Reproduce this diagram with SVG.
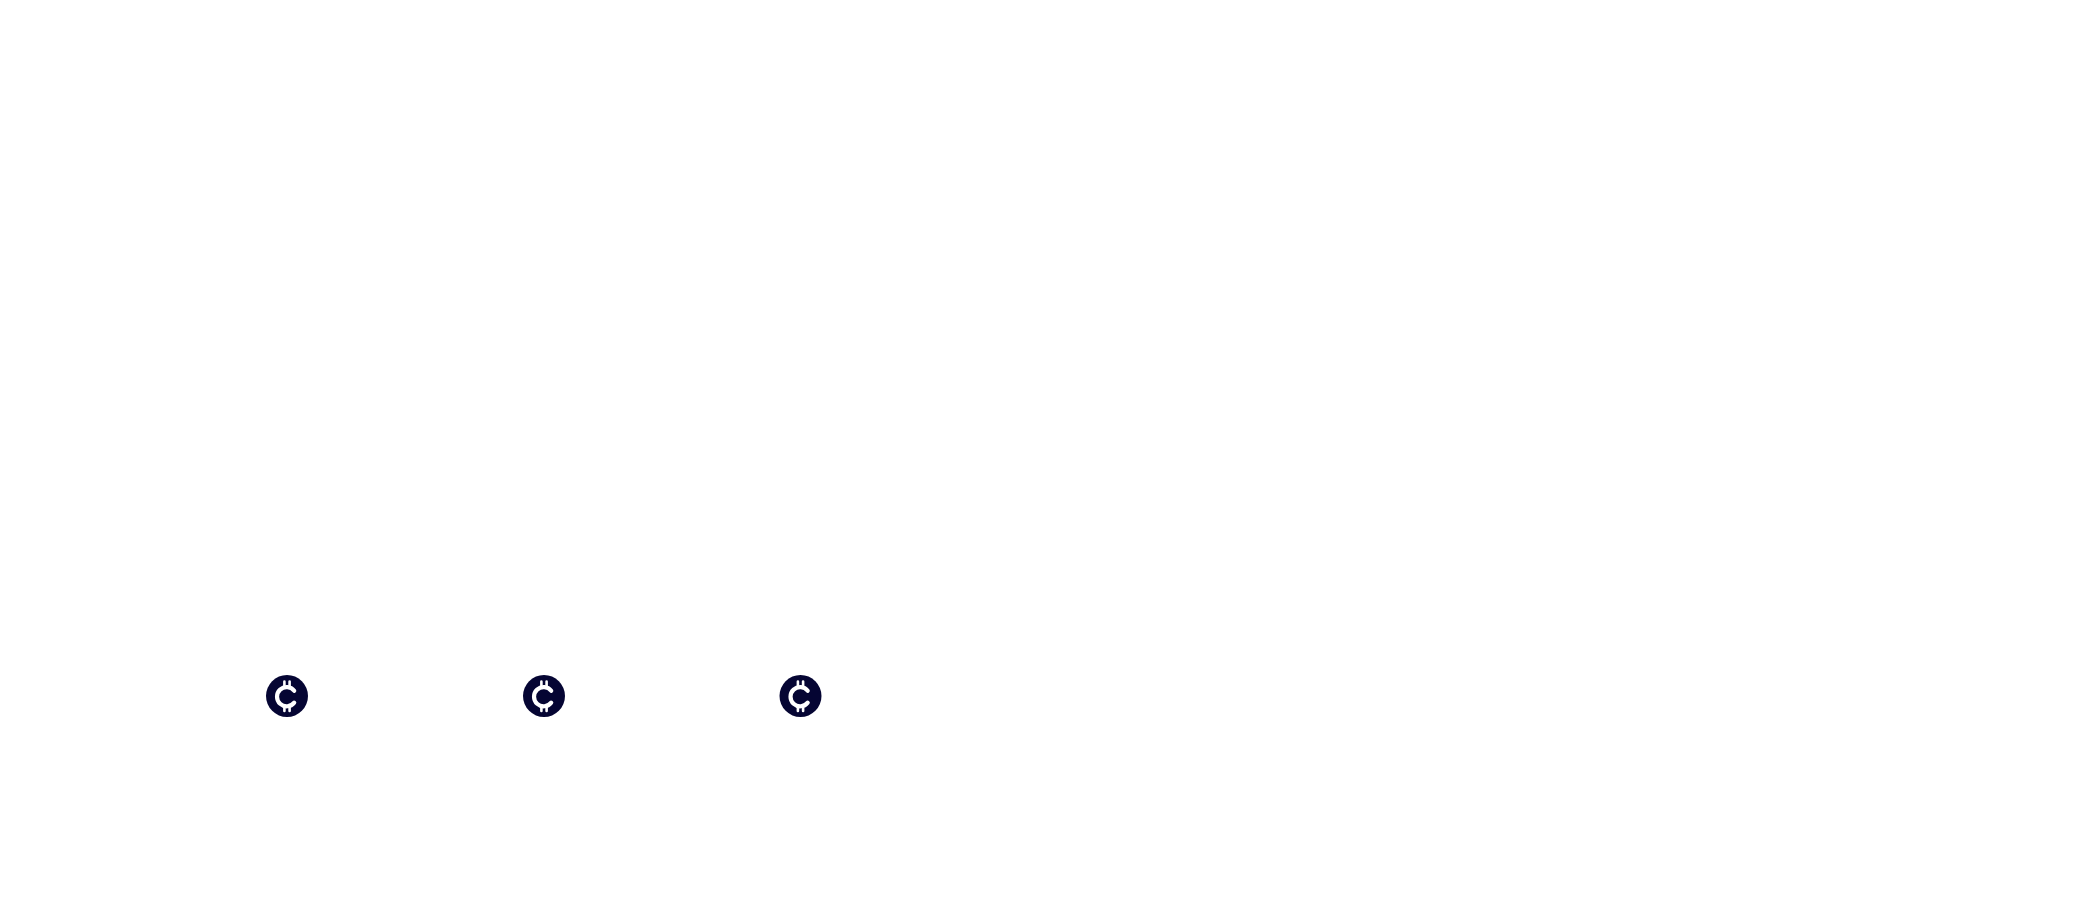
<svg xmlns="http://www.w3.org/2000/svg" width="2080" height="920" viewBox="0 0 2080 920">
<style>.bg{fill:#fff}.disc{fill:#050533}.mark{fill:none;stroke:#fff;stroke-width:4.2;stroke-linecap:round}.tick{stroke:#fff;stroke-width:2.6;stroke-linecap:round}</style>
<defs>
<g id="coin">
<circle class="disc" r="21"/>
<path class="mark" d="M7.2 -5.2A9.6 9.6 0 1 0 7.2 6.6"/>
<path class="tick" d="M-2.6 -14.4V-9M2.6 -14.4V-9M-2.6 9.6V15M2.6 9.6V15"/>
</g>
</defs>
<rect class="bg" width="2080" height="920"/>
<g id="connectors"/>
<g id="coin-1"><use href="#coin" x="287" y="696"/></g>
<g id="coin-2"><use href="#coin" x="544" y="696"/></g>
<g id="coin-3"><use href="#coin" x="800.5" y="696"/></g>
</svg>
